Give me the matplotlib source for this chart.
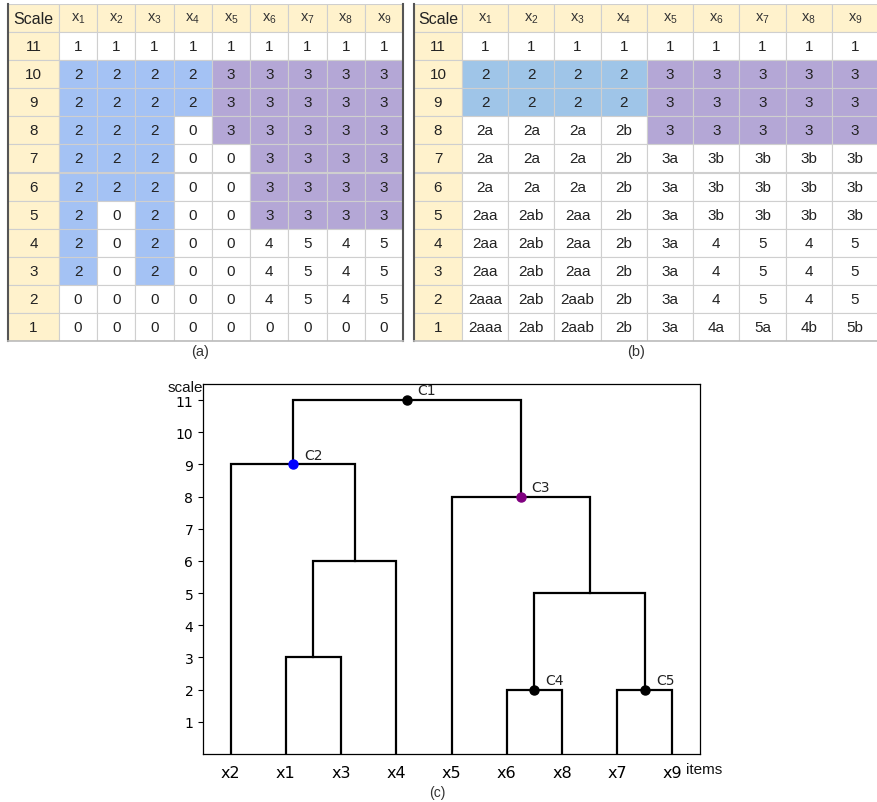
import numpy as np
import matplotlib
matplotlib.use("Agg")
import matplotlib.pyplot as plt
from matplotlib.patches import Rectangle

# ---------------- data ----------------
scales = [11, 10, 9, 8, 7, 6, 5, 4, 3, 2, 1]
item_idx = [1, 2, 3, 4, 5, 6, 7, 8, 9]

table_a = [
    ["1", "1", "1", "1", "1", "1", "1", "1", "1"],
    ["2", "2", "2", "2", "3", "3", "3", "3", "3"],
    ["2", "2", "2", "2", "3", "3", "3", "3", "3"],
    ["2", "2", "2", "0", "3", "3", "3", "3", "3"],
    ["2", "2", "2", "0", "0", "3", "3", "3", "3"],
    ["2", "2", "2", "0", "0", "3", "3", "3", "3"],
    ["2", "0", "2", "0", "0", "3", "3", "3", "3"],
    ["2", "0", "2", "0", "0", "4", "5", "4", "5"],
    ["2", "0", "2", "0", "0", "4", "5", "4", "5"],
    ["0", "0", "0", "0", "0", "4", "5", "4", "5"],
    ["0", "0", "0", "0", "0", "0", "0", "0", "0"],
]

table_b = [
    ["1", "1", "1", "1", "1", "1", "1", "1", "1"],
    ["2", "2", "2", "2", "3", "3", "3", "3", "3"],
    ["2", "2", "2", "2", "3", "3", "3", "3", "3"],
    ["2a", "2a", "2a", "2b", "3", "3", "3", "3", "3"],
    ["2a", "2a", "2a", "2b", "3a", "3b", "3b", "3b", "3b"],
    ["2a", "2a", "2a", "2b", "3a", "3b", "3b", "3b", "3b"],
    ["2aa", "2ab", "2aa", "2b", "3a", "3b", "3b", "3b", "3b"],
    ["2aa", "2ab", "2aa", "2b", "3a", "4", "5", "4", "5"],
    ["2aa", "2ab", "2aa", "2b", "3a", "4", "5", "4", "5"],
    ["2aaa", "2ab", "2aab", "2b", "3a", "4", "5", "4", "5"],
    ["2aaa", "2ab", "2aab", "2b", "3a", "4a", "5a", "4b", "5b"],
]

leaf_order = ["x2", "x1", "x3", "x4", "x5", "x6", "x8", "x7", "x9"]
# (left, right, height, name)
merges = [
    ("x1", "x3", 3, "A"),
    ("A", "x4", 6, "B"),
    ("x2", "B", 9, "C2"),
    ("x6", "x8", 2, "C4"),
    ("x7", "x9", 2, "C5"),
    ("C4", "C5", 5, "D"),
    ("x5", "D", 8, "C3"),
    ("C2", "C3", 11, "C1"),
]
marked = {"C1": "black", "C2": "blue", "C3": "purple", "C4": "black", "C5": "black"}

# ---------------- styling ----------------
W, H = 878, 803
HEADER = "#fff2cc"
PURPLE = "#b4a7d6"
GRID = "#cfcfcf"
TXT = "#222222"
TFONT = "Liberation Sans"
plt.rcParams["mathtext.fontset"] = "custom"
plt.rcParams["mathtext.rm"] = TFONT

fig = plt.figure(figsize=(W / 100, H / 100), dpi=100)


def px_axes(x0, y0, x1, y1):
    return fig.add_axes([x0 / W, 1 - y1 / H, (x1 - x0) / W, (y1 - y0) / H])


def draw_table(ax, rows, first_w, col_w, blue, left_dark=True, right_dark=False):
    widths = [first_w] + [col_w] * 9
    edges = np.concatenate([[0], np.cumsum(widths)])
    nrows = len(rows) + 1
    ax.set_xlim(0, edges[-1])
    ax.set_ylim(nrows, 0)
    ax.axis("off")
    header = ["Scale"] + [f"x$_\\mathregular{{{i}}}$" for i in item_idx]
    for j, h in enumerate(header):
        ax.add_patch(Rectangle((edges[j], 0), widths[j], 1, facecolor=HEADER,
                               edgecolor=GRID, lw=0.8))
        ax.text((edges[j] + edges[j + 1]) / 2, 0.5, h, ha="center", va="center",
                fontsize=11.5 if j == 0 else 10.5, color=TXT if j == 0 else "#333333",
                family=TFONT)
    for i, (s, row) in enumerate(zip(scales, rows), start=1):
        ax.add_patch(Rectangle((0, i), widths[0], 1, facecolor=HEADER,
                               edgecolor=GRID, lw=0.8))
        ax.text(widths[0] / 2, i + 0.5, str(s), ha="center", va="center",
                fontsize=11, color=TXT, family=TFONT)
        for j, v in enumerate(row, start=1):
            fc = blue if v == "2" else PURPLE if v == "3" else "white"
            ax.add_patch(Rectangle((edges[j], i), widths[j], 1, facecolor=fc,
                                   edgecolor=GRID, lw=0.8))
            ax.text((edges[j] + edges[j + 1]) / 2, i + 0.5, v, ha="center",
                    va="center", fontsize=11, color=TXT, family=TFONT)
    if left_dark:
        ax.plot([0, 0], [0, nrows], color="#555555", lw=1.5, clip_on=False)
    if right_dark:
        ax.plot([edges[-1], edges[-1]], [0, nrows], color="#555555", lw=1.5,
                clip_on=False)
    ax.plot([0, edges[-1]], [nrows, nrows], color="#bbbbbb", lw=1.2, clip_on=False)


ax_a = px_axes(8, 5, 403, 342)
draw_table(ax_a, table_a, 51, (403 - 59) / 9, "#a4c2f4", True, True)
ax_b = px_axes(414, 5, 878, 342)
draw_table(ax_b, table_b, 48, (878 - 462) / 9, "#9fc5e8", True, False)

fig.text(200 / W, 1 - 352 / H, "(a)", ha="center", va="center", fontsize=10.5,
         color="#333333", family=TFONT)
fig.text(636 / W, 1 - 352 / H, "(b)", ha="center", va="center", fontsize=10.5,
         color="#333333", family=TFONT)

# ---------------- dendrogram ----------------
ax = px_axes(203, 385, 700, 755)
pos = {name: 5 + 10 * k for k, name in enumerate(leaf_order)}
hgt = {name: 0 for name in leaf_order}
for left, right, h, name in merges:
    xl, xr = pos[left], pos[right]
    ax.plot([xl, xl, xr, xr], [hgt[left], h, h, hgt[right]], color="black",
            lw=1.6, solid_joinstyle="miter")
    pos[name] = (xl + xr) / 2
    hgt[name] = h
for name, col in marked.items():
    ax.plot(pos[name], hgt[name], "o", color=col, ms=6.5, zorder=5)
    ax.annotate(name, (pos[name], hgt[name]), xytext=(8, 7),
                textcoords="offset points", ha="left", va="center",
                fontsize=10, color="#222222")

ax.set_xlim(0, 90)
ax.set_ylim(0, 11.5)
ax.set_yticks(range(1, 12))
ax.tick_params(axis="y", labelsize=10, length=3.5)
ax.set_xticks([5 + 10 * k for k in range(len(leaf_order))])
ax.set_xticklabels(leaf_order, fontsize=11.5)
ax.tick_params(axis="x", length=0, pad=8)
for sp in ax.spines.values():
    sp.set_linewidth(0.9)

fig.text(203 / W, 1 - 392 / H, "scale", ha="right", va="baseline", fontsize=11,
         family=TFONT, color="#111111")
fig.text(686 / W, 1 - 770 / H, "items", ha="left", va="center", fontsize=11,
         family=TFONT, color="#111111")
fig.text(437 / W, 1 - 793 / H, "(c)", ha="center", va="center", fontsize=10,
         color="#333333", family=TFONT)

fig.savefig("out.png", dpi=100, facecolor="white")
